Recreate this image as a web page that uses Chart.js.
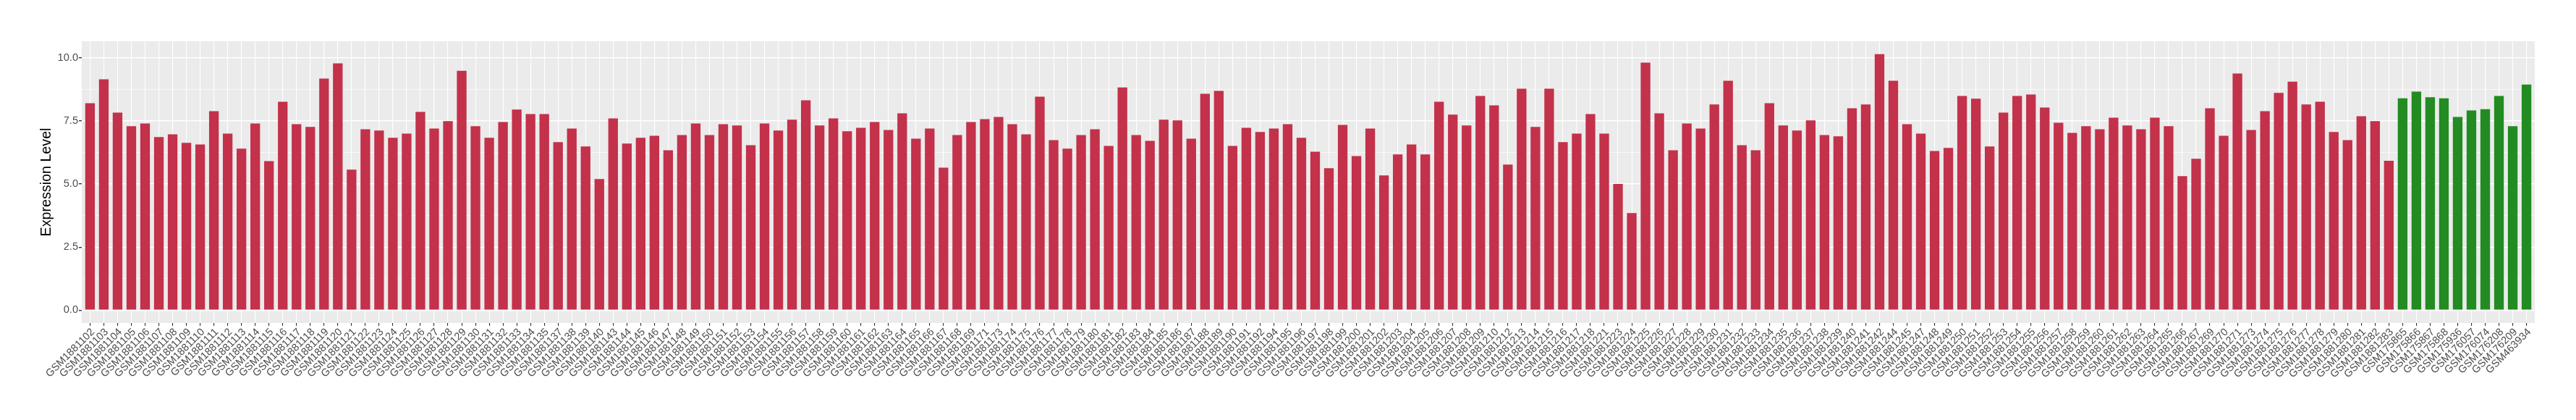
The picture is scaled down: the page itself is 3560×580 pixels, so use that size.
<!DOCTYPE html>
<html>
<head>
<meta charset="utf-8">
<script src="https://cdn.jsdelivr.net/npm/chart.js@4.4.0/dist/chart.umd.min.js"></script>
<style>
    html, body { margin: 0; padding: 0; background: #ffffff; }
    #wrap { width: 3560px; height: 580px; }
</style>
</head>
<body>
<div id="wrap"><canvas id="barChart" width="3560" height="580"></canvas></div>
<script>
// 红色样本（GSM1881xxx）
var tumorSamples = [
    'GSM1881102', 'GSM1881103', 'GSM1881104', 'GSM1881105', 'GSM1881106', 'GSM1881107', 'GSM1881108', 'GSM1881109',
    'GSM1881110', 'GSM1881111', 'GSM1881112', 'GSM1881113', 'GSM1881114', 'GSM1881115', 'GSM1881116', 'GSM1881117',
    'GSM1881118', 'GSM1881119', 'GSM1881120', 'GSM1881121', 'GSM1881122', 'GSM1881123', 'GSM1881124', 'GSM1881125',
    'GSM1881126', 'GSM1881127', 'GSM1881128', 'GSM1881129', 'GSM1881130', 'GSM1881131', 'GSM1881132', 'GSM1881133',
    'GSM1881134', 'GSM1881135', 'GSM1881137', 'GSM1881138', 'GSM1881139', 'GSM1881140', 'GSM1881143', 'GSM1881144',
    'GSM1881145', 'GSM1881146', 'GSM1881147', 'GSM1881148', 'GSM1881149', 'GSM1881150', 'GSM1881151', 'GSM1881152',
    'GSM1881153', 'GSM1881154', 'GSM1881155', 'GSM1881156', 'GSM1881157', 'GSM1881158', 'GSM1881159', 'GSM1881160',
    'GSM1881161', 'GSM1881162', 'GSM1881163', 'GSM1881164', 'GSM1881165', 'GSM1881166', 'GSM1881167', 'GSM1881168',
    'GSM1881169', 'GSM1881171', 'GSM1881173', 'GSM1881174', 'GSM1881175', 'GSM1881176', 'GSM1881177', 'GSM1881178',
    'GSM1881179', 'GSM1881180', 'GSM1881181', 'GSM1881182', 'GSM1881183', 'GSM1881184', 'GSM1881185', 'GSM1881186',
    'GSM1881187', 'GSM1881188', 'GSM1881189', 'GSM1881190', 'GSM1881191', 'GSM1881192', 'GSM1881194', 'GSM1881195',
    'GSM1881196', 'GSM1881197', 'GSM1881198', 'GSM1881199', 'GSM1881200', 'GSM1881201', 'GSM1881202', 'GSM1881203',
    'GSM1881204', 'GSM1881205', 'GSM1881206', 'GSM1881207', 'GSM1881208', 'GSM1881209', 'GSM1881210', 'GSM1881212',
    'GSM1881213', 'GSM1881214', 'GSM1881215', 'GSM1881216', 'GSM1881217', 'GSM1881218', 'GSM1881221', 'GSM1881223',
    'GSM1881224', 'GSM1881225', 'GSM1881226', 'GSM1881227', 'GSM1881228', 'GSM1881229', 'GSM1881230', 'GSM1881231',
    'GSM1881232', 'GSM1881233', 'GSM1881234', 'GSM1881235', 'GSM1881236', 'GSM1881237', 'GSM1881238', 'GSM1881239',
    'GSM1881240', 'GSM1881241', 'GSM1881242', 'GSM1881244', 'GSM1881245', 'GSM1881247', 'GSM1881248', 'GSM1881249',
    'GSM1881250', 'GSM1881251', 'GSM1881252', 'GSM1881253', 'GSM1881254', 'GSM1881255', 'GSM1881256', 'GSM1881257',
    'GSM1881258', 'GSM1881259', 'GSM1881260', 'GSM1881261', 'GSM1881262', 'GSM1881263', 'GSM1881264', 'GSM1881265',
    'GSM1881266', 'GSM1881267', 'GSM1881269', 'GSM1881270', 'GSM1881271', 'GSM1881273', 'GSM1881274', 'GSM1881275',
    'GSM1881276', 'GSM1881277', 'GSM1881278', 'GSM1881279', 'GSM1881280', 'GSM1881281', 'GSM1881282', 'GSM1881283'
];
var tumorValues = [
    8.20, 9.15, 7.83, 7.29, 7.40, 6.86, 6.97, 6.63,
    6.57, 7.89, 7.00, 6.40, 7.40, 5.91, 8.26, 7.37,
    7.26, 9.18, 9.78, 5.57, 7.17, 7.12, 6.83, 7.00,
    7.86, 7.20, 7.49, 9.49, 7.29, 6.83, 7.46, 7.95,
    7.77, 7.77, 6.66, 7.20, 6.49, 5.20, 7.60, 6.60,
    6.83, 6.91, 6.34, 6.94, 7.40, 6.94, 7.37, 7.32,
    6.54, 7.40, 7.12, 7.55, 8.32, 7.32, 7.60, 7.09,
    7.23, 7.46, 7.14, 7.80, 6.80, 7.20, 5.65, 6.94,
    7.46, 7.57, 7.66, 7.37, 6.97, 8.46, 6.74, 6.40,
    6.94, 7.17, 6.51, 8.83, 6.94, 6.71, 7.55, 7.52,
    6.80, 8.58, 8.69, 6.51, 7.23, 7.06, 7.20, 7.37,
    6.83, 6.28, 5.63, 7.34, 6.11, 7.20, 5.34, 6.17,
    6.57, 6.17, 8.26, 7.75, 7.32, 8.49, 8.12, 5.77,
    8.78, 7.26, 8.78, 6.66, 7.00, 7.77, 7.00, 5.00,
    3.85, 9.81, 7.80, 6.34, 7.40, 7.20, 8.15, 9.09,
    6.54, 6.34, 8.20, 7.32, 7.12, 7.52, 6.94, 6.89,
    8.00, 8.15, 10.15, 9.09, 7.37, 7.00, 6.31, 6.43,
    8.49, 8.38, 6.49, 7.83, 8.49, 8.55, 8.03, 7.43,
    7.03, 7.29, 7.17, 7.63, 7.32, 7.17, 7.63, 7.29,
    5.31, 6.00, 8.00, 6.91, 9.38, 7.14, 7.89, 8.61,
    9.06, 8.15, 8.26, 7.06, 6.74, 7.69, 7.49, 5.92
];

// 绿色样本
var normalSamples = [
    'GSM175865', 'GSM175866', 'GSM175867', 'GSM175868', 'GSM175936',
    'GSM176057', 'GSM176074', 'GSM176208', 'GSM176209', 'GSM463934'
];
var normalValues = [8.40, 8.66, 8.44, 8.40, 7.66, 7.92, 7.97, 8.49, 7.29, 8.94];

// y轴刻度
var yTickValues = [0, 2.5, 5, 7.5, 10];
var yTickLabels = ['0.0', '2.5', '5.0', '7.5', '10.0'];
var yMinorValues = [1.25, 3.75, 6.25, 8.75];

var tumorColor = '#C3314A';
var normalColor = '#228B22';

var labels = tumorSamples.concat(normalSamples);
var values = tumorValues.concat(normalValues);
var colors = tumorSamples.map(function () { return tumorColor; })
    .concat(normalSamples.map(function () { return normalColor; }));

// 灰色面板背景
var panelBackground = {
    id: 'panelBackground',
    beforeDraw: function (chart) {
        var area = chart.chartArea;
        var c = chart.ctx;
        c.save();
        c.fillStyle = '#EBEBEB';
        c.fillRect(area.left, area.top, area.right - area.left, area.bottom - area.top);
        c.restore();
    }
};

function isMinor(value) {
    return yMinorValues.indexOf(value) !== -1;
}

Chart.defaults.font.family = "'Liberation Sans', Arial, sans-serif";
Chart.defaults.animation = false;

var ctx = document.getElementById('barChart').getContext('2d');
var barChart = new Chart(ctx, {
    type: 'bar',
    data: {
        labels: labels,
        datasets: [{
            data: values,
            backgroundColor: colors,
            borderWidth: 0,
            barPercentage: 0.7,
            categoryPercentage: 1.0
        }]
    },
    options: {
        responsive: false,
        layout: { padding: { top: 57, right: 57, bottom: 0, left: 0 } },
        plugins: {
            legend: { display: false },
            tooltip: { enabled: false }
        },
        scales: {
            x: {
                offset: true,
                border: { display: false },
                grid: {
                    offset: false,
                    color: '#FFFFFF',
                    lineWidth: 1.1,
                    tickColor: '#333333',
                    tickLength: 4
                },
                ticks: {
                    autoSkip: false,
                    minRotation: 45,
                    maxRotation: 45,
                    padding: 0,
                    labelOffset: 4,
                    color: '#4D4D4D',
                    font: { size: 14.5 }
                },
                // 两端各留 0.6 个类别宽度
                afterBuildTicks: function (scale) {
                    scale._startValue = -0.6;
                    scale._valueRange = labels.length + 0.2;
                },
                afterFit: function (scale) { scale.height = 134; }
            },
            y: {
                min: -0.5075,
                max: 10.6575,
                border: { display: false },
                grid: {
                    color: '#FFFFFF',
                    lineWidth: function (c) { return c.tick && isMinor(c.tick.value) ? 0.6 : 1.4; },
                    tickColor: function (c) { return c.tick && isMinor(c.tick.value) ? 'rgba(0,0,0,0)' : '#333333'; },
                    tickLength: 4
                },
                afterBuildTicks: function (scale) {
                    scale.ticks = yTickValues.concat(yMinorValues)
                        .sort(function (a, b) { return a - b; })
                        .map(function (v) { return { value: v }; });
                },
                ticks: {
                    padding: 1,
                    color: '#4D4D4D',
                    font: { size: 14.6 },
                    callback: function (value) {
                        var i = yTickValues.indexOf(value);
                        return i === -1 ? '' : yTickLabels[i];
                    }
                },
                title: {
                    display: true,
                    text: 'Expression Level',
                    color: '#000000',
                    font: { size: 19.7 },
                    padding: { top: 53, bottom: 0 }
                },
                afterFit: function (scale) { scale.width = 113; }
            }
        }
    },
    plugins: [panelBackground]
});
</script>
</body>
</html>
